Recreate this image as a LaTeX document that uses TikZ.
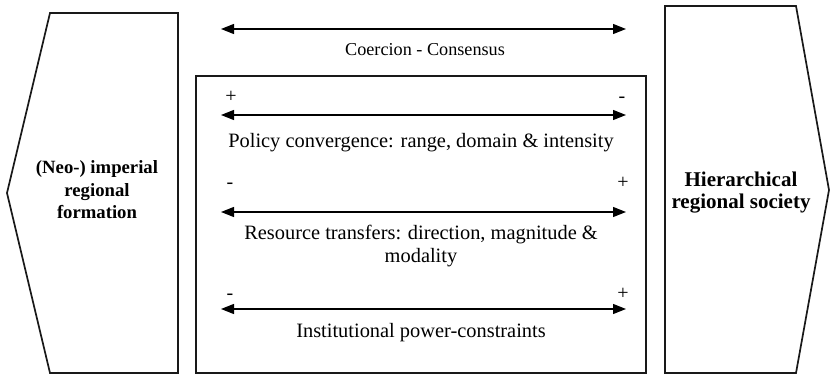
\documentclass[tikz,border=0pt]{standalone}
\usepackage{fontspec}
\setmainfont{Liberation Serif}
\usetikzlibrary{arrows.meta}
\begin{document}
\begin{tikzpicture}[x=1pt,y=-1pt,
  shapeline/.style={draw=black!90,line width=1.7pt,line join=miter},
  dblarrow/.style={line width=1.3pt,{Triangle[length=13pt,width=10pt]}-{Triangle[length=13pt,width=10pt]}},
  lbl/.style={font=\fontsize{20.4}{23}\selectfont,align=center,inner sep=0pt},
  sign/.style={font=\fontsize{20}{23}\selectfont,inner sep=0pt,anchor=base},
  boldlbl/.style={font=\bfseries,align=center,inner sep=0pt}]
\useasboundingbox (0,0) rectangle (830,375);
% left shape
\coordinate (L1) at (50,13);
\coordinate (L2) at (178,13);
\coordinate (L3) at (178,373);
\coordinate (L4) at (50,373);
\coordinate (L5) at (7,193);
\draw[shapeline] (L1) -- (L2) -- (L3) -- (L4) -- (L5) -- cycle;
\node[boldlbl,font=\fontsize{18.7}{22.5}\selectfont\bfseries] (left) at (97,190) {(Neo-) imperial\\regional\\formation};
% right shape
\coordinate (R1) at (665,6);
\coordinate (R2) at (796,6);
\coordinate (R3) at (829,190);
\coordinate (R4) at (796,373);
\coordinate (R5) at (665,373);
\draw[shapeline] (R1) -- (R2) -- (R3) -- (R4) -- (R5) -- cycle;
\node[boldlbl,font=\fontsize{21}{21.5}\selectfont\bfseries] (right) at (741,192.5) {Hierarchical\\regional society};
% central box
\node[shapeline,draw,minimum width=450pt,minimum height=297pt,inner sep=0pt] (box) at (421,224.5) {};
% top arrow
\coordinate (a0l) at (221,29);
\coordinate (a0r) at (626,29);
\draw[dblarrow] (a0l) -- (a0r);
\node[lbl,font=\fontsize{18.2}{21}\selectfont] (coer) at (425,50) {Coercion - Consensus};
% row 1
\coordinate (a1l) at (221,115);
\coordinate (a1r) at (626,115);
\draw[dblarrow] (a1l) -- (a1r);
\node[sign] (p1) at (231,102) {+};
\node[sign] (m1) at (622,102) {-};
\node[lbl] (policy) at (421,143) {Policy convergence: range, domain \& intensity};
% row 2
\coordinate (a2l) at (221,212);
\coordinate (a2r) at (626,212);
\draw[dblarrow] (a2l) -- (a2r);
\node[sign] (m2) at (230,188) {-};
\node[sign] (p2) at (623,188) {+};
\node[lbl] (res) at (421,246.5) {Resource transfers: direction, magnitude \&\\modality};
% row 3
\coordinate (a3l) at (221,309);
\coordinate (a3r) at (626,309);
\draw[dblarrow] (a3l) -- (a3r);
\node[sign] (m3) at (230,299) {-};
\node[sign] (p3) at (623,299) {+};
\node[lbl] (inst) at (421,333) {Institutional power-constraints};
\end{tikzpicture}
\end{document}
